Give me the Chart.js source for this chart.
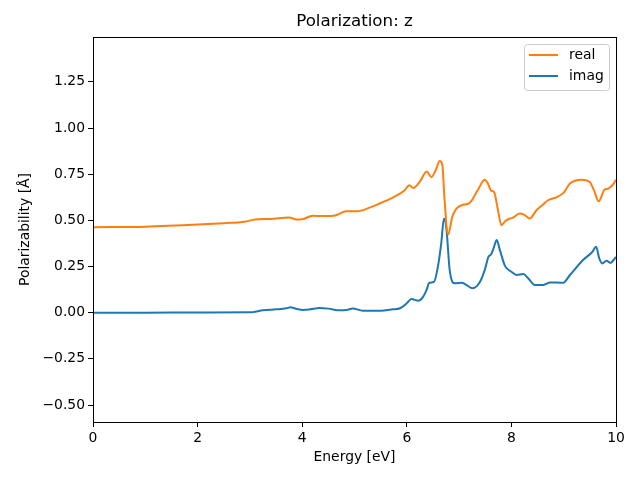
<!DOCTYPE html>
<html>
<head>
<meta charset="utf-8">
<script src="https://cdn.jsdelivr.net/npm/chart.js@4.4.1/dist/chart.umd.min.js"></script>
<style>
  html, body { margin: 0; padding: 0; background: #fff; }
  #wrap { width: 640px; height: 480px; }
</style>
</head>
<body>
<div id="wrap"><canvas id="polChart" width="640" height="480"></canvas></div>
<script>
// values
const realEnergy = [0, 1, 2, 2.5, 2.9, 3.1, 3.4, 3.75, 3.9, 4.0, 4.2, 4.35, 4.6, 4.85, 5.05, 5.3, 5.5, 5.75, 5.95, 6.05, 6.12, 6.25, 6.38, 6.47, 6.55, 6.63, 6.68, 6.72, 6.79, 6.87, 6.95, 7.05, 7.2, 7.35, 7.49, 7.55, 7.61, 7.67, 7.74, 7.81, 7.88, 7.94, 8.02, 8.16, 8.25, 8.35, 8.48, 8.6, 8.7, 8.87, 9.0, 9.12, 9.34, 9.5, 9.58, 9.67, 9.78, 9.85, 9.93, 10];
const realValues = [0.463, 0.466, 0.477, 0.485, 0.493, 0.505, 0.508, 0.515, 0.505, 0.506, 0.525, 0.523, 0.525, 0.549, 0.549, 0.57, 0.594, 0.626, 0.66, 0.69, 0.675, 0.71, 0.765, 0.734, 0.77, 0.821, 0.80, 0.62, 0.423, 0.52, 0.564, 0.582, 0.594, 0.66, 0.72, 0.70, 0.662, 0.653, 0.56, 0.474, 0.495, 0.506, 0.513, 0.537, 0.53, 0.51, 0.555, 0.585, 0.609, 0.626, 0.65, 0.699, 0.72, 0.707, 0.662, 0.603, 0.666, 0.672, 0.69, 0.72];

const imagEnergy = [0, 1, 2, 3.0, 3.06, 3.25, 3.5, 3.7, 3.77, 3.9, 4.01, 4.15, 4.33, 4.5, 4.72, 4.85, 4.97, 5.16, 5.5, 5.73, 5.87, 6.0, 6.09, 6.22, 6.31, 6.38, 6.43, 6.52, 6.6, 6.66, 6.71, 6.76, 6.82, 6.92, 7.05, 7.26, 7.40, 7.5, 7.56, 7.61, 7.66, 7.72, 7.78, 7.88, 8.0, 8.1, 8.23, 8.32, 8.45, 8.61, 8.74, 8.99, 9.12, 9.37, 9.55, 9.62, 9.68, 9.74, 9.82, 9.89, 10];
const imagValues = [0.0, 0.0, 0.001, 0.002, 0.003, 0.013, 0.018, 0.024, 0.029, 0.02, 0.015, 0.018, 0.025, 0.022, 0.013, 0.015, 0.022, 0.011, 0.011, 0.018, 0.024, 0.051, 0.074, 0.065, 0.086, 0.125, 0.162, 0.167, 0.258, 0.38, 0.51, 0.447, 0.23, 0.159, 0.162, 0.132, 0.167, 0.24, 0.302, 0.315, 0.35, 0.393, 0.339, 0.252, 0.222, 0.204, 0.209, 0.186, 0.15, 0.15, 0.164, 0.162, 0.204, 0.285, 0.33, 0.357, 0.294, 0.267, 0.281, 0.27, 0.302];

const xTicks = [0, 2, 4, 6, 8, 10];
const yTicks = [-0.5, -0.25, 0, 0.25, 0.5, 0.75, 1.0, 1.25];

const chartTitle = "Polarization: z";
const FONT = "'DejaVu Sans', sans-serif";

const toPoints = (xs, ys) => xs.map((x, i) => ({ x: x, y: ys[i] }));

// full box around the plot, like matplotlib spines, plus the title centred over the axes
const frameBox = {
  id: "frameBox",
  afterDatasetsDraw(chart) {
    const { ctx, chartArea: a } = chart;
    ctx.save();
    ctx.strokeStyle = "#000";
    ctx.lineWidth = 1;
    ctx.strokeRect(Math.round(a.left) + 0.5, Math.round(a.top) + 0.5,
      Math.round(a.right - a.left), Math.round(a.bottom - a.top));
    ctx.fillStyle = "#000";
    ctx.font = "16.7px " + FONT;
    ctx.textAlign = "center";
    ctx.textBaseline = "middle";
    ctx.fillText(chartTitle, (a.left + a.right) / 2, 22);
    ctx.restore();
  },
};

// legend box inside the upper right corner
const insideLegend = {
  id: "insideLegend",
  afterDraw(chart) {
    const { ctx, chartArea: a } = chart;
    const w = 85, h = 46;
    const x = a.right - 7 - w, y = a.top + 7;
    ctx.save();
    ctx.beginPath();
    ctx.roundRect(x + 0.5, y + 0.5, w, h, 3);
    ctx.fillStyle = "rgba(255,255,255,0.8)";
    ctx.fill();
    ctx.strokeStyle = "#cccccc";
    ctx.lineWidth = 1;
    ctx.stroke();
    ctx.font = "13.9px " + FONT;
    ctx.textBaseline = "middle";
    chart.data.datasets.forEach((ds, i) => {
      const ly = y + 11 + i * 21;
      ctx.strokeStyle = ds.borderColor;
      ctx.lineWidth = 2;
      ctx.beginPath();
      ctx.moveTo(x + 5, ly);
      ctx.lineTo(x + 34, ly);
      ctx.stroke();
      ctx.fillStyle = "#000";
      ctx.fillText(ds.label, x + 45, ly);
    });
    ctx.restore();
  },
};

const ctx = document.getElementById("polChart");
new Chart(ctx, {
  type: "line",
  data: {
    datasets: [
      {
        label: "real",
        data: toPoints(realEnergy, realValues),
        borderColor: "#ff7f0e",
        borderWidth: 2,
        pointRadius: 0,
        cubicInterpolationMode: "monotone",
        fill: false,
      },
      {
        label: "imag",
        data: toPoints(imagEnergy, imagValues),
        borderColor: "#1f77b4",
        borderWidth: 2,
        pointRadius: 0,
        cubicInterpolationMode: "monotone",
        fill: false,
      },
    ],
  },
  options: {
    responsive: false,
    animation: false,
    layout: { padding: { left: 0, right: 24, top: 37, bottom: 0 } },
    plugins: {
      legend: { display: false },
      tooltip: { enabled: false },
      title: { display: false },
    },
    scales: {
      x: {
        type: "linear",
        min: 0,
        max: 10,
        afterBuildTicks: (s) => { s.ticks = xTicks.map((v) => ({ value: v })); },
        afterFit: (s) => { s.height = 58; },
        grid: { display: true, drawOnChartArea: false, drawTicks: true, tickLength: 5, color: "#000" },
        border: { display: true, color: "#000" },
        ticks: {
          color: "#000",
          padding: 3,
          maxRotation: 0,
          font: { family: FONT, size: 13.9 },
          callback: (v) => String(v),
        },
        title: {
          display: true,
          text: "Energy [eV]",
          color: "#000",
          font: { family: FONT, size: 13.9 },
          padding: { top: 0, bottom: 14 },
        },
      },
      y: {
        type: "linear",
        min: -0.592,
        max: 1.493,
        afterBuildTicks: (s) => { s.ticks = yTicks.map((v) => ({ value: v })); },
        afterFit: (s) => { s.width = 93; },
        grid: { display: true, drawOnChartArea: false, drawTicks: true, tickLength: 5, color: "#000" },
        border: { display: true, color: "#000" },
        ticks: {
          color: "#000",
          padding: 3,
          font: { family: FONT, size: 13.9 },
          callback: (v) => v.toFixed(2).replace("-", "\u2212"),
        },
        title: {
          display: true,
          text: "Polarizability [Å]",
          color: "#000",
          font: { family: FONT, size: 13.9 },
          padding: { top: 17, bottom: 0 },
        },
      },
    },
  },
  plugins: [frameBox, insideLegend],
});
</script>
</body>
</html>
